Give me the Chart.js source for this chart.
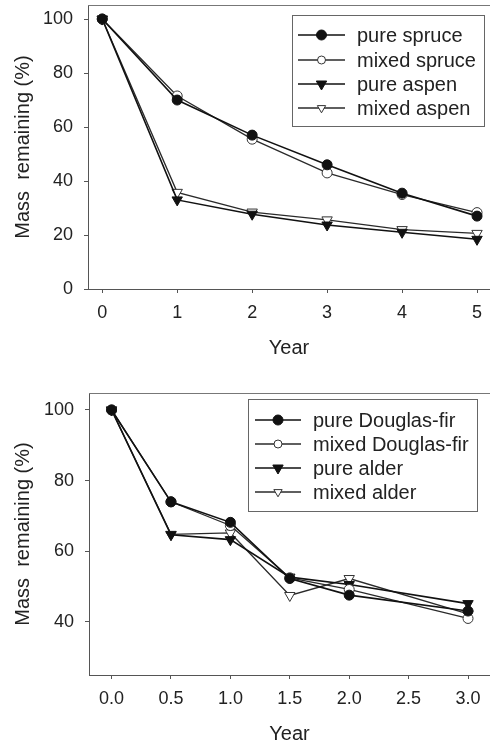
<!DOCTYPE html>
<html lang="en">
<head>
    <meta charset="UTF-8">
    <title>Mass remaining</title>
    <script src="https://cdnjs.cloudflare.com/ajax/libs/Chart.js/4.4.1/chart.umd.min.js"></script>
    <style>
        body {
            margin: 0;
            background: white;
        }
        .wrap {
            position: relative;
            width: 490px;
            height: 744px;
        }
        canvas {
            position: absolute;
            left: 0;
        }
        #topChart { top: 0; }
        #bottomChart { top: 372px; }
    </style>
</head>
<body>

    <div class="wrap">
        <canvas id="topChart" width="490" height="372"></canvas>
        <canvas id="bottomChart" width="490" height="372"></canvas>
    </div>

    <script>
        // Top panel: spruce / aspen
        const years1 = [0, 1, 2, 3, 4, 5];
        const pureSpruce = [100, 70, 57, 46, 35.5, 27];
        const mixedSpruce = [100, 71.5, 55.5, 43, 35, 28.3];
        const pureAspen = [100, 33, 27.7, 23.7, 21, 18.4];
        const mixedAspen = [100, 35.8, 28.5, 25.6, 22, 20.6];
        const xTicks1 = [0, 1, 2, 3, 4, 5];
        const yTicks1 = [0, 20, 40, 60, 80, 100];

        // Bottom panel: Douglas-fir / alder
        const years2 = [0, 0.5, 1, 1.5, 2, 3];
        const pureFir = [100, 74, 68.2, 52.3, 47.6, 43.1];
        const mixedFir = [100, 74, 67.3, 52.5, 49.2, 41];
        const pureAlder = [100, 64.7, 63.3, 52.7, 50.6, 45.2];
        const mixedAlder = [100, 64.8, 65.2, 47.5, 52.3, 42.3];
        const xTicks2 = [0, 0.5, 1, 1.5, 2, 2.5, 3];
        const yTicks2 = [40, 60, 80, 100];

        const FONT = "'Liberation Sans', Arial, sans-serif";
        const INK = "#222";
        const AXIS = "#555";

        function toXY(xs, ys) {
            return xs.map((x, i) => ({ x: x, y: ys[i] }));
        }

        // marker styles: filled circle, open circle, filled down-triangle, open down-triangle
        function series(label, xs, ys, kind) {
            const filled = kind === "pure";
            return {
                label: label,
                data: toXY(xs, ys),
                borderColor: filled ? "#111" : "#2a2a2a",
                borderWidth: filled ? 1.6 : 1.3,
                pointBackgroundColor: filled ? "#111" : "#fff",
                pointBorderColor: filled ? "#111" : "#333",
                pointBorderWidth: 1,
                tension: 0,
                clip: false
            };
        }

        function withMarker(ds, style) {
            if (style === "circle") {
                ds.pointStyle = "circle";
                ds.pointRadius = 5;
            } else {
                ds.pointStyle = "triangle";
                ds.pointRotation = 180;
                ds.pointRadius = 6;
            }
            ds.pointHoverRadius = ds.pointRadius;
            return ds;
        }

        // draws the top frame line and the boxed legend
        const framePlugin = {
            id: "frameLegend",
            afterDraw(chart, args, opts) {
                const ctx = chart.ctx;
                const a = chart.chartArea;
                ctx.save();
                ctx.strokeStyle = "#777";
                ctx.lineWidth = 1;
                ctx.beginPath();
                ctx.moveTo(a.left, a.top + 0.5);
                ctx.lineTo(a.right, a.top + 0.5);
                ctx.stroke();

                // legend box
                ctx.strokeStyle = "#666";
                ctx.strokeRect(opts.x + 0.5, opts.y + 0.5, opts.w, opts.h);
                ctx.font = "20px " + FONT;
                ctx.textBaseline = "middle";
                ctx.fillStyle = INK;
                chart.data.datasets.forEach((ds, i) => {
                    const y = opts.rowY[i];
                    ctx.strokeStyle = ds.borderColor;
                    ctx.lineWidth = ds.borderWidth;
                    ctx.beginPath();
                    ctx.moveTo(opts.lineX0, y);
                    ctx.lineTo(opts.lineX1, y);
                    ctx.stroke();
                    const cx = (opts.lineX0 + opts.lineX1) / 2;
                    const r = ds.pointBackgroundColor === "#fff" ? ds.pointRadius * 0.8 : ds.pointRadius;
                    ctx.fillStyle = ds.pointBackgroundColor;
                    ctx.strokeStyle = ds.pointBorderColor;
                    ctx.lineWidth = 1;
                    ctx.beginPath();
                    if (ds.pointStyle === "circle") {
                        ctx.arc(cx, y, r, 0, Math.PI * 2);
                    } else {
                        ctx.moveTo(cx, y + r);
                        ctx.lineTo(cx - r * 0.866, y - r / 2);
                        ctx.lineTo(cx + r * 0.866, y - r / 2);
                        ctx.closePath();
                    }
                    ctx.fill();
                    ctx.stroke();
                    ctx.fillStyle = INK;
                    ctx.fillText(ds.label, opts.textX, y + 1);
                });
                ctx.restore();
            }
        };

        function makeChart(id, datasets, xCfg, yCfg, pad, legendBox) {
            return new Chart(document.getElementById(id), {
                type: "line",
                data: { datasets: datasets },
                options: {
                    responsive: false,
                    animation: false,
                    layout: { padding: pad, autoPadding: false },
                    plugins: {
                        legend: { display: false },
                        tooltip: { enabled: false },
                        frameLegend: legendBox
                    },
                    scales: {
                        x: {
                            type: "linear",
                            min: xCfg.min,
                            max: xCfg.max,
                            afterBuildTicks: s => { s.ticks = xCfg.ticks.map(v => ({ value: v })); },
                            afterFit: s => {
                                s.height = xCfg.height;
                                s.paddingLeft = 0;
                                s.paddingRight = 0;
                            },
                            grid: { drawOnChartArea: false, tickLength: 4, color: AXIS },
                            border: { color: AXIS },
                            ticks: {
                                padding: 9,
                                color: INK,
                                font: { family: FONT, size: 18 },
                                callback: xCfg.fmt
                            },
                            title: {
                                display: true,
                                text: "Year",
                                color: INK,
                                font: { family: FONT, size: 20, lineHeight: 1 },
                                padding: { top: 0, bottom: xCfg.titlePad }
                            }
                        },
                        y: {
                            min: yCfg.min,
                            max: yCfg.max,
                            afterBuildTicks: s => { s.ticks = yCfg.ticks.map(v => ({ value: v })); },
                            afterFit: s => {
                                s.width = yCfg.width;
                                s.paddingTop = 0;
                                s.paddingBottom = 0;
                            },
                            grid: { drawOnChartArea: false, tickLength: 4, color: AXIS },
                            border: { color: AXIS },
                            ticks: {
                                padding: 11,
                                color: INK,
                                font: { family: FONT, size: 18 }
                            },
                            title: {
                                display: true,
                                text: "Mass  remaining (%)",
                                color: INK,
                                font: { family: FONT, size: 20 },
                                padding: { top: 11, bottom: 0 }
                            }
                        }
                    }
                },
                plugins: [framePlugin]
            });
        }

        makeChart("topChart", [
            withMarker(series("pure spruce", years1, pureSpruce, "pure"), "circle"),
            withMarker(series("mixed spruce", years1, mixedSpruce, "mixed"), "circle"),
            withMarker(series("pure aspen", years1, pureAspen, "pure"), "triangle"),
            withMarker(series("mixed aspen", years1, mixedAspen, "mixed"), "triangle")
        ], {
            min: -0.19, max: 5.173, ticks: xTicks1, height: 83, titlePad: 14,
            fmt: v => String(v)
        }, {
            min: 0, max: 105.2, ticks: yTicks1, width: 88
        }, { top: 5, right: 0, left: 0, bottom: 0 }, {
            x: 292, y: 15, w: 192, h: 111,
            lineX0: 298, lineX1: 345, textX: 357,
            rowY: [35, 60, 84, 108]
        });

        makeChart("bottomChart", [
            withMarker(series("pure Douglas-fir", years2, pureFir, "pure"), "circle"),
            withMarker(series("mixed Douglas-fir", years2, mixedFir, "mixed"), "circle"),
            withMarker(series("pure alder", years2, pureAlder, "pure"), "triangle"),
            withMarker(series("mixed alder", years2, mixedAlder, "mixed"), "triangle")
        ], {
            min: -0.19, max: 3.185, ticks: xTicks2, height: 69, titlePad: 0,
            fmt: v => v.toFixed(1)
        }, {
            min: 25, max: 104.8, ticks: yTicks2, width: 89
        }, { top: 21, right: 0, left: 0, bottom: 0 }, {
            x: 248, y: 27, w: 229, h: 112,
            lineX0: 255, lineX1: 301, textX: 313,
            rowY: [48, 72, 96, 120]
        });
    </script>

</body>
</html>
